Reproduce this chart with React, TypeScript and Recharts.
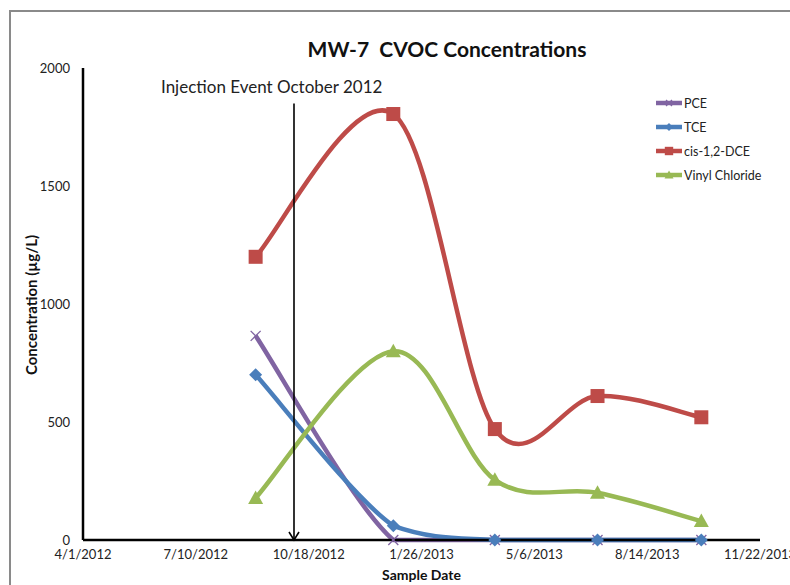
import React from "react";
import { LineChart, Line, XAxis, YAxis, ReferenceLine } from "recharts";

// sample dates and concentrations (ug/L)
const sampleDates = ["2012-09-01", "2013-01-01", "2013-04-01", "2013-07-01", "2013-10-01"];
const pce = [865, 0, 0, 0, 0];
const tce = [700, 60, 0, 0, 0];
const cisDce = [1200, 1805, 470, 610, 520];
const vinylChloride = [178, 800, 255, 200, 80];

const xTickDates = ["2012-04-01", "2012-07-10", "2012-10-18", "2013-01-26", "2013-05-06", "2013-08-14", "2013-11-22"];
const yTicks = [0, 500, 1000, 1500, 2000];

const injectionDate = "2012-10-05";
const injectionArrowTop = 1850;

const WIDTH = 790;
const HEIGHT = 585;
const MARGIN = { top: 68, right: 30, bottom: 15, left: 0 };
const X_AXIS_H = 30;
const PLOT_BOTTOM = HEIGHT - MARGIN.bottom - X_AXIS_H;
const FONT = "Lato, 'Open Sans', sans-serif";

const ts = (s: string) => Date.parse(s);
const fmtDate = (v: number) => {
  const d = new Date(v);
  return `${d.getUTCMonth() + 1}/${d.getUTCDate()}/${d.getUTCFullYear()}`;
};

const data = sampleDates.map((d, i) => ({
  date: ts(d),
  pce: pce[i],
  tce: tce[i],
  cis: cisDce[i],
  vc: vinylChloride[i],
}));

const xTicks = xTickDates.map(ts);

// Excel-like smoothed line (catmull-rom bezier), kept from dipping under the x axis
function smoothCurve(yMax: number) {
  return (context: any) => {
    let pts: number[][] = [];
    return {
      areaStart() {},
      areaEnd() {},
      lineStart() {
        pts = [];
      },
      point(x: number, y: number) {
        pts.push([+x, +y]);
      },
      lineEnd() {
        const n = pts.length;
        if (!n) return;
        context.moveTo(pts[0][0], pts[0][1]);
        for (let i = 0; i < n - 1; i++) {
          const p0 = pts[Math.max(0, i - 1)];
          const p1 = pts[i];
          const p2 = pts[i + 1];
          const p3 = pts[Math.min(n - 1, i + 2)];
          const c1x = p1[0] + (p2[0] - p0[0]) / 6;
          const c1y = Math.min(yMax, p1[1] + (p2[1] - p0[1]) / 6);
          const c2x = p2[0] - (p3[0] - p1[0]) / 6;
          const c2y = Math.min(yMax, p2[1] - (p3[1] - p1[1]) / 6);
          context.bezierCurveTo(c1x, c1y, c2x, c2y, p2[0], p2[1]);
        }
      },
    };
  };
}

const curve = smoothCurve(PLOT_BOTTOM);

const COLORS = {
  pce: "#8064A2",
  tce: "#4A7EBB",
  cis: "#BE4B48",
  vc: "#98B954",
};

function Marker({ kind, cx, cy, color, s = 1 }: any) {
  if (cx == null || cy == null) return null;
  if (kind === "x") {
    const r = 5 * s;
    return (
      <g stroke={color} strokeWidth={1.3}>
        <line x1={cx - r} y1={cy - r} x2={cx + r} y2={cy + r} />
        <line x1={cx - r} y1={cy + r} x2={cx + r} y2={cy - r} />
      </g>
    );
  }
  if (kind === "diamond") {
    const r = 6.5 * s;
    return <polygon points={`${cx},${cy - r} ${cx + r},${cy} ${cx},${cy + r} ${cx - r},${cy}`} fill={color} />;
  }
  if (kind === "square") {
    const r = 7 * s;
    return <rect x={cx - r} y={cy - r} width={2 * r} height={2 * r} fill={color} />;
  }
  const r = 7.5 * s;
  return <polygon points={`${cx},${cy - r} ${cx + r},${cy + r * 0.8} ${cx - r},${cy + r * 0.8}`} fill={color} />;
}

const series = [
  { key: "pce", name: "PCE", marker: "x" },
  { key: "tce", name: "TCE", marker: "diamond" },
  { key: "cis", name: "cis-1,2-DCE", marker: "square" },
  { key: "vc", name: "Vinyl Chloride", marker: "triangle" },
];

function InjectionArrow(p: any) {
  const x = p.x1;
  const top = Math.min(p.y1, p.y2);
  const bottom = Math.max(p.y1, p.y2);
  return (
    <g stroke="#000" strokeWidth={1.6} fill="none">
      <line x1={x} y1={top} x2={x} y2={bottom} />
      <polyline points={`${x - 5},${bottom - 8} ${x},${bottom} ${x + 5},${bottom - 8}`} />
    </g>
  );
}

export default function App() {
  return (
    <div style={{ position: "absolute", left: 0, top: 0, width: WIDTH, height: HEIGHT, overflow: "hidden", background: "#fff", fontFamily: FONT }}>
      <div
        style={{
          position: "absolute",
          left: 9,
          top: 10,
          right: -10,
          bottom: -10,
          borderTop: "2px solid #8a8a8a",
          borderLeft: "2px solid #8a8a8a",
        }}
      />
      <div style={{ position: "absolute", left: 0, right: 0, top: 0 }}>
        <LineChart width={WIDTH} height={HEIGHT} data={data} margin={MARGIN}>
          <XAxis
            dataKey="date"
            type="number"
            scale="time"
            domain={[xTicks[0], xTicks[xTicks.length - 1]]}
            ticks={xTicks}
            tickFormatter={fmtDate}
            height={X_AXIS_H}
            tickLine={false}
            tickMargin={4}
            axisLine={{ stroke: "#000", strokeWidth: 2.5 }}
            tick={{ fill: "#222", fontSize: 13, fontFamily: FONT }}
            interval={0}
          />
          <YAxis
            domain={[0, 2000]}
            ticks={yTicks}
            width={83}
            tickLine={false}
            tickMargin={7}
            axisLine={{ stroke: "#000", strokeWidth: 2.5 }}
            tick={{ fill: "#222", fontSize: 13, fontFamily: FONT }}
          />
          {series.map((s) => (
            <Line
              key={s.key}
              dataKey={s.key}
              name={s.name}
              type={curve as any}
              stroke={(COLORS as any)[s.key]}
              strokeWidth={4.5}
              isAnimationActive={false}
              dot={(p: any) => (
                <Marker key={`${s.key}-${p.index}`} kind={s.marker} cx={p.cx} cy={p.cy} color={(COLORS as any)[s.key]} />
              )}
              activeDot={false}
            />
          ))}
          <ReferenceLine
            segment={[
              { x: ts(injectionDate), y: 0 },
              { x: ts(injectionDate), y: injectionArrowTop },
            ]}
            shape={(p: any) => <InjectionArrow {...p} />}
          />
        </LineChart>
      </div>
      <div style={{ position: "absolute", left: 0, width: WIDTH, top: 36, textAlign: "center", paddingLeft: 104, boxSizing: "border-box", fontSize: 21, fontWeight: 700, color: "#111" }}>
        MW-7&nbsp; CVOC Concentrations
      </div>
      <div style={{ position: "absolute", left: 161, top: 76, fontSize: 17, color: "#222" }}>Injection Event October 2012</div>
      <div
        style={{
          position: "absolute",
          left: 31,
          top: 305,
          transform: "translate(-50%, -50%) rotate(-90deg)",
          whiteSpace: "nowrap",
          fontSize: 15,
          fontWeight: 700,
          color: "#111",
        }}
      >
        Concentration (µg/L)
      </div>
      <div style={{ position: "absolute", left: 83, width: 677, top: 566, textAlign: "center", fontSize: 14, fontWeight: 700, color: "#111" }}>
        Sample Date
      </div>
      <div style={{ position: "absolute", left: 655, top: 91 }}>
        {series.map((s) => (
          <div key={s.key} style={{ display: "flex", alignItems: "center", height: 24, fontSize: 12.5, color: "#222" }}>
            <svg width={28} height={16} style={{ marginRight: 1 }}>
              <line x1={1} y1={8} x2={27} y2={8} stroke={(COLORS as any)[s.key]} strokeWidth={4.5} />
              <Marker kind={s.marker} cx={14} cy={8} color={(COLORS as any)[s.key]} s={0.6} />
            </svg>
            {s.name}
          </div>
        ))}
      </div>
    </div>
  );
}
